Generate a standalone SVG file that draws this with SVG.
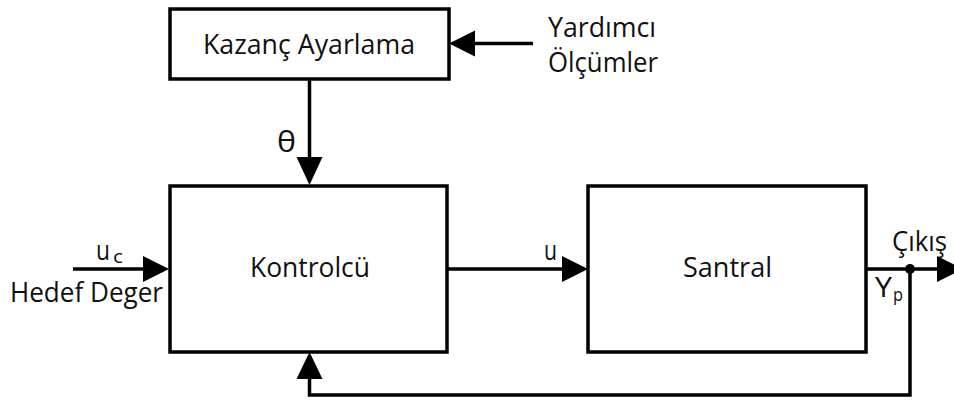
<svg xmlns="http://www.w3.org/2000/svg" width="954" height="400" viewBox="0 0 954 400">
  <style>
    .box { fill: #ffffff; stroke: #000000; stroke-width: 3.5; }
    .wire { fill: none; stroke: #000000; stroke-width: 3.5; stroke-linejoin: miter; }
    .head { fill: #000000; stroke: none; }
    text { font-family: "Open Sans", "Noto Sans", "Liberation Sans", sans-serif; fill: #111111; font-size: 27px; }
    .sub { font-size: 19px; }
    .theta { font-size: 30px; }
  </style>
  <rect width="954" height="400" fill="#ffffff"/>

  <!-- connectors -->
  <g id="connectors">
    <!-- auxiliary measurements into gain scheduling -->
    <line class="wire" x1="533" y1="43.5" x2="472" y2="43.5"/>
    <polygon class="head" points="449,43.5 475,30.5 475,56.5"/>
    <!-- theta: gain scheduling to controller -->
    <line class="wire" x1="309.5" y1="79" x2="309.5" y2="160"/>
    <polygon class="head" points="309.5,185 296.5,157 322.5,157"/>
    <!-- reference input -->
    <line class="wire" x1="73" y1="269" x2="146" y2="269"/>
    <polygon class="head" points="169,269 143,256 143,282"/>
    <!-- u: controller to plant -->
    <line class="wire" x1="447" y1="269" x2="565" y2="269"/>
    <polygon class="head" points="588,269 562,256 562,282"/>
    <!-- plant output -->
    <line class="wire" x1="866" y1="269" x2="940" y2="269"/>
    <polygon class="head" points="963,269 937,256 937,282"/>
    <circle cx="910" cy="269" r="5" fill="#000000"/>
    <!-- feedback loop -->
    <polyline class="wire" points="910,269 910,395 309.5,395 309.5,376"/>
    <polygon class="head" points="309.5,352 296.5,379 322.5,379"/>
  </g>

  <!-- gain scheduling block -->
  <g id="kazanc-ayarlama">
    <rect class="box" x="170" y="9" width="279" height="70"/>
    <text x="203" y="54" textLength="212" lengthAdjust="spacingAndGlyphs">Kazanç Ayarlama</text>
  </g>

  <!-- controller block -->
  <g id="kontrolcu">
    <rect class="box" x="170" y="186" width="277" height="166"/>
    <text x="250" y="277" textLength="120" lengthAdjust="spacingAndGlyphs">Kontrolcü</text>
  </g>

  <!-- plant block -->
  <g id="santral">
    <rect class="box" x="588" y="186" width="278" height="166"/>
    <text x="683" y="277" textLength="89" lengthAdjust="spacingAndGlyphs">Santral</text>
  </g>

  <!-- labels -->
  <g id="labels">
    <text x="548" y="37" textLength="108" lengthAdjust="spacingAndGlyphs">Yardımcı</text>
    <text x="548" y="72" textLength="110" lengthAdjust="spacingAndGlyphs">Ölçümler</text>
    <text class="theta" x="277" y="152" textLength="19" lengthAdjust="spacingAndGlyphs">θ</text>
    <text x="96" y="260" textLength="14" lengthAdjust="spacingAndGlyphs">u</text>
    <text class="sub" x="113" y="263" textLength="10" lengthAdjust="spacingAndGlyphs">c</text>
    <text x="10" y="302" textLength="153" lengthAdjust="spacingAndGlyphs">Hedef Deger</text>
    <text x="544" y="260" textLength="13" lengthAdjust="spacingAndGlyphs">u</text>
    <text x="892" y="251" textLength="55" lengthAdjust="spacingAndGlyphs">Çıkış</text>
    <text x="875" y="297" textLength="17" lengthAdjust="spacingAndGlyphs">Y</text>
    <text class="sub" x="893" y="301" textLength="10" lengthAdjust="spacingAndGlyphs">p</text>
  </g>
</svg>
